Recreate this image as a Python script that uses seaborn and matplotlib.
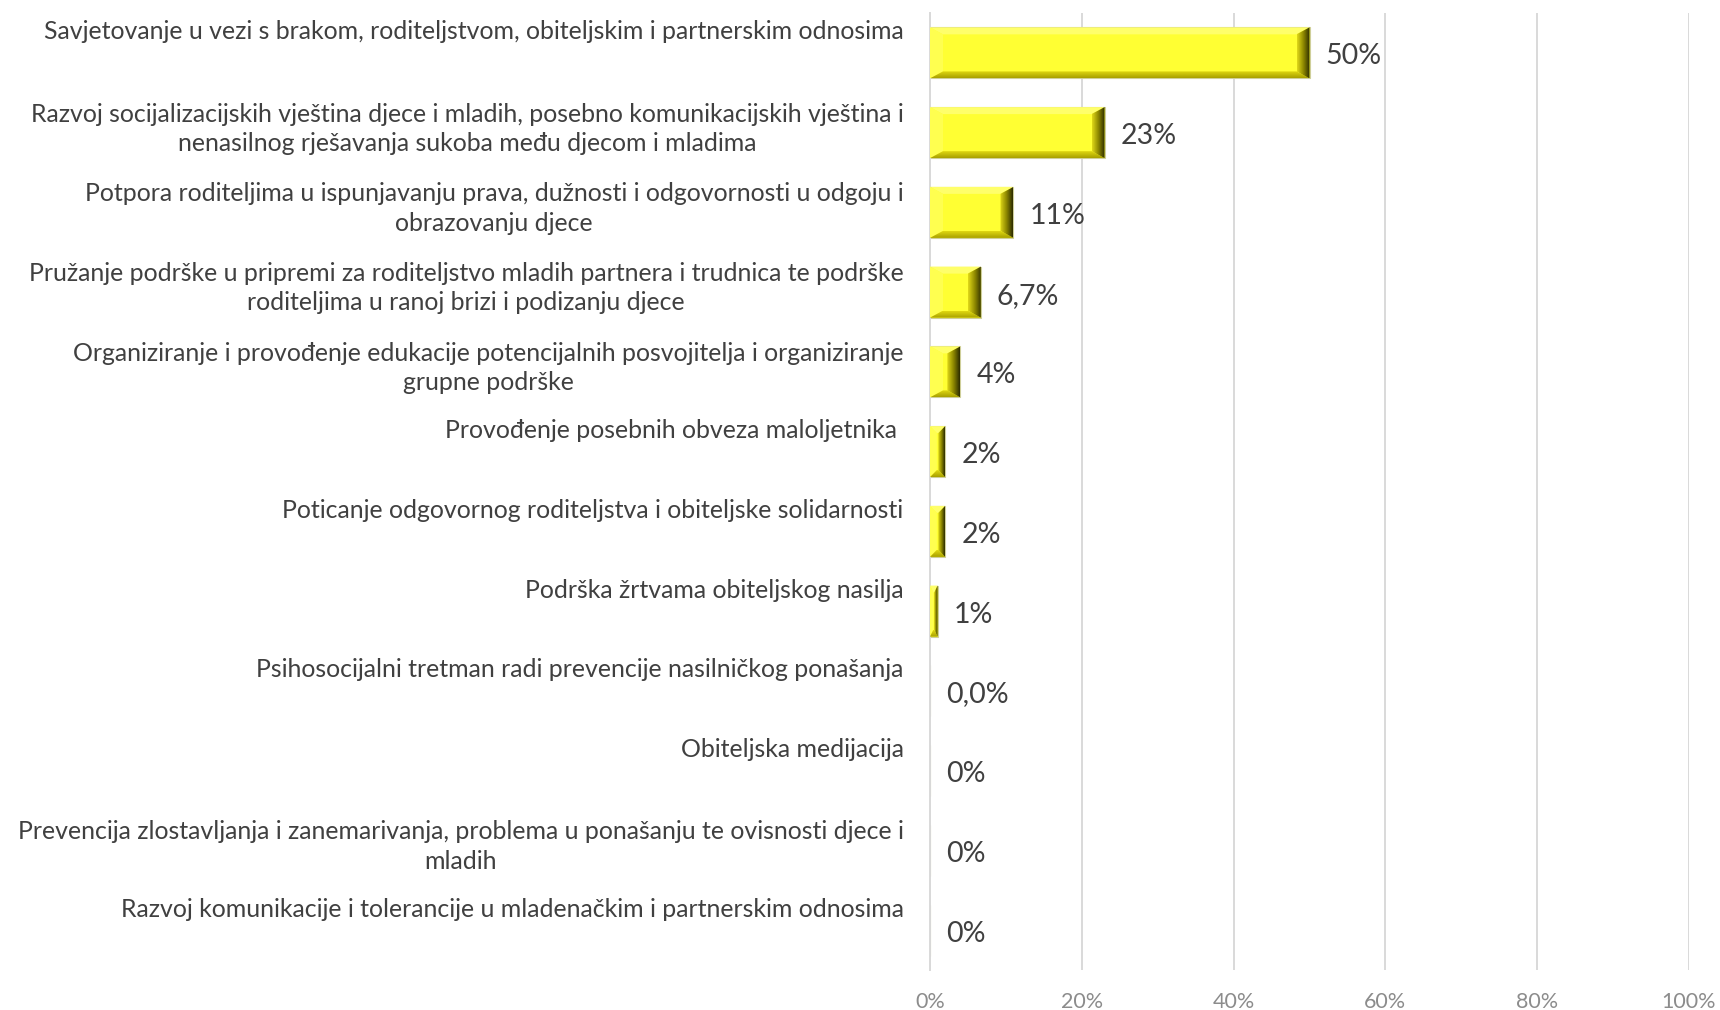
import matplotlib
matplotlib.use("Agg")
import matplotlib.pyplot as plt
import seaborn as sns
import numpy as np
import pandas as pd
from matplotlib.patches import Polygon
from matplotlib.transforms import ScaledTranslation
from matplotlib.colors import LinearSegmentedColormap

categories = [
    "Savjetovanje u vezi s brakom, roditeljstvom, obiteljskim i partnerskim odnosima",
    "Razvoj socijalizacijskih vještina djece i mladih, posebno komunikacijskih vještina i\nnenasilnog rješavanja sukoba među djecom i mladima",
    "Potpora roditeljima u ispunjavanju prava, dužnosti i odgovornosti u odgoju i\nobrazovanju djece",
    "Pružanje podrške u pripremi za roditeljstvo mladih partnera i trudnica te podrške\nroditeljima u ranoj brizi i podizanju djece",
    "Organiziranje i provođenje edukacije potencijalnih posvojitelja i organiziranje\ngrupne podrške",
    "Provođenje posebnih obveza maloljetnika ",
    "Poticanje odgovornog roditeljstva i obiteljske solidarnosti",
    "Podrška žrtvama obiteljskog nasilja",
    "Psihosocijalni tretman radi prevencije nasilničkog ponašanja",
    "Obiteljska medijacija",
    "Prevencija zlostavljanja i zanemarivanja, problema u ponašanju te ovisnosti djece i\nmladih",
    "Razvoj komunikacije i tolerancije u mladenačkim i partnerskim odnosima",
]
values = [50, 23, 11, 6.7, 4, 2, 2, 1, 0, 0, 0, 0]
value_labels = ["50%", "23%", "11%", "6,7%", "4%", "2%", "2%", "1%", "0,0%", "0%", "0%", "0%"]
x_ticks = [0, 20, 40, 60, 80, 100]
x_tick_labels = ["0%", "20%", "40%", "60%", "80%", "100%"]

sns.set_theme(style="white")
plt.rcParams['font.family'] = ['Lato', 'DejaVu Sans']

W, H = 1720, 1010
fig = plt.figure(figsize=(W / 100, H / 100), dpi=100)
L, R, T, B = 930, 1689, 13, 970
ax = fig.add_axes([L / W, 1 - B / H, (R - L) / W, (B - T) / H])

df = pd.DataFrame({"cat": categories, "val": values})
sns.barplot(data=df, y="cat", x="val", orient="h", color="#FFFF33", saturation=1,
            width=0.64, ax=ax, edgecolor="#CFCF9A", linewidth=0.8, zorder=2)

ax.set_xlim(0, 100)
ax.set_ylim(len(categories) - 0.5, -0.5)

# bevel decoration derived from each bar's geometry
px_x = (R - L) / 100.0
px_y = (B - T) / len(categories)
bev_x = 13 / px_x
bev_y = 7 / px_y
cmap_r = LinearSegmentedColormap.from_list("r", ["#E0D818", "#8E8800", "#2C2C00"])
cmap_b = LinearSegmentedColormap.from_list("b", ["#E0D810", "#A8A000"])
for p in list(ax.patches):
    w = p.get_width()
    if w <= 0:
        continue
    x0, y0, h = p.get_x(), p.get_y(), p.get_height()
    xL, xR, yT, yB = x0, x0 + w, y0, y0 + h
    bx = min(bev_x, w * 0.45)
    by = min(bev_y, h * 0.4)
    top = Polygon([(xL, yT), (xR, yT), (xR - bx, yT + by), (xL + bx, yT + by)],
                  closed=True, facecolor="#FFFF6A", edgecolor="none", zorder=3)
    left = Polygon([(xL, yT), (xL + bx, yT + by), (xL + bx, yB - by), (xL, yB)],
                   closed=True, facecolor="#FFFF50", edgecolor="none", zorder=3)
    ax.add_patch(top)
    ax.add_patch(left)
    bot = Polygon([(xL, yB), (xR, yB), (xR - bx, yB - by), (xL + bx, yB - by)],
                  closed=True, facecolor="none", edgecolor="none", zorder=3)
    ax.add_patch(bot)
    imb = ax.imshow(np.linspace(0, 1, 20).reshape(-1, 1), extent=(xL, xR, yB, yB - by),
                    cmap=cmap_b, aspect="auto", interpolation="bilinear", zorder=3, origin="upper")
    imb.set_clip_path(bot)
    right = Polygon([(xR, yT), (xR, yB), (xR - bx, yB - by), (xR - bx, yT + by)],
                    closed=True, facecolor="none", edgecolor="none", zorder=4)
    ax.add_patch(right)
    imr = ax.imshow(np.linspace(0, 1, 50).reshape(1, -1), extent=(xR - bx, xR, yB, yT),
                    cmap=cmap_r, aspect="auto", interpolation="bilinear", zorder=4)
    imr.set_clip_path(right)

ax.set_xlim(0, 100)
ax.set_ylim(len(categories) - 0.5, -0.5)
ax.set_aspect("auto")

# value labels
for i, (v, lab) in enumerate(zip(values, value_labels)):
    ax.annotate(lab, xy=(v, i), xytext=(11.5, -2.5), textcoords="offset points",
                ha="left", va="center", fontsize=20.5, color="#404040", zorder=5)

# axes styling
ax.set_xlabel("")
ax.set_ylabel("")
ax.set_xticks(x_ticks)
ax.set_xticklabels(x_tick_labels)
ax.tick_params(axis="x", length=0, pad=16, labelsize=15.5, labelcolor="#8C8C8C")
ax.xaxis.grid(True, color="#D9D9D9", linewidth=1.4)
ax.set_axisbelow("line")
for s in ["top", "right", "bottom"]:
    ax.spines[s].set_visible(False)
ax.spines["left"].set_color("#D9D9D9")
ax.spines["left"].set_linewidth(1.4)

ax.set_yticks(np.arange(len(categories)))
ax.set_yticklabels(categories, multialignment="center", linespacing=1.33)
ax.set_yticks(np.arange(-0.5, len(categories), 1), minor=True)
ax.tick_params(axis="y", which="major", direction="in", length=5, width=1.2,
               color="#D9D9D9", pad=19, labelsize=17.9, labelcolor="#404040")
ax.tick_params(axis="y", which="minor", direction="out", length=8, width=1.2, color="#D9D9D9")

for lab in ax.get_yticklabels():
    txt = lab.get_text()
    dy = 9 if "\n" in txt else 23
    lab.set_transform(lab.get_transform() + ScaledTranslation(0, dy / 100, fig.dpi_scale_trans))

fig.savefig("out.png", dpi=100)
